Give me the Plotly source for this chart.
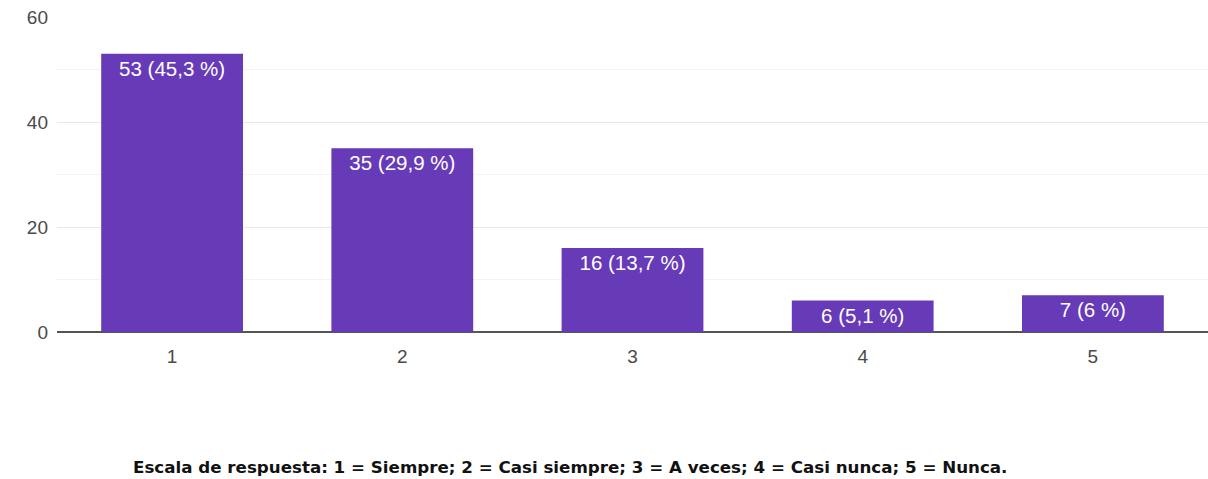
import plotly.graph_objects as go

categories = ["1", "2", "3", "4", "5"]
values = [53, 35, 16, 6, 7]
labels = ["53 (45,3 %)", "35 (29,9 %)", "16 (13,7 %)", "6 (5,1 %)", "7 (6 %)"]
y_ticks = [0, 20, 40, 60]
caption = "Escala de respuesta: 1 = Siempre; 2 = Casi siempre; 3 = A veces; 4 = Casi nunca; 5 = Nunca."

fig = go.Figure(go.Bar(
    x=categories, y=values, text=labels,
    textposition="inside", insidetextanchor="end", constraintext="none",
    insidetextfont=dict(color="white", size=20.5, family="Liberation Sans, Arial"),
    marker=dict(color="#673ab7", line=dict(width=0)),
    width=0.616, hoverinfo="skip",
))

fig.update_layout(
    width=1208, height=479,
    margin=dict(l=57, r=0, t=17, b=147, autoexpand=False),
    plot_bgcolor="white", paper_bgcolor="white",
    font=dict(family="Liberation Sans, Arial", size=19, color="#4a4a4a"),
    showlegend=False,
    bargap=0.384,
    xaxis=dict(showgrid=False, ticks="", showline=False, automargin=False,
               tickfont=dict(size=19, color="#4a4a4a"), ticklabelstandoff=11),
    yaxis=dict(range=[0, 60], tickvals=y_ticks, showgrid=True, gridcolor="#e8e8e8", gridwidth=1,
               automargin=False,
               zeroline=True, zerolinecolor="#555555", zerolinewidth=2,
               minor=dict(tickvals=[10, 30, 50], showgrid=True, gridcolor="#f3f3f3", gridwidth=1),
               ticks="", ticklen=0, tickfont=dict(size=19, color="#4a4a4a"), ticklabelstandoff=8),
    annotations=[dict(text="<b>" + caption + "</b>", xref="paper", yref="paper",
                      x=(570 - 57) / 1151, y=(479 - 147 - 467) / 315, xanchor="center", yanchor="middle",
                      showarrow=False, font=dict(family="DejaVu Sans", size=16.7, color="#111111"))],
)

fig.write_html("out.html", config={"displayModeBar": False},
               post_script="document.body.style.margin='0';")
